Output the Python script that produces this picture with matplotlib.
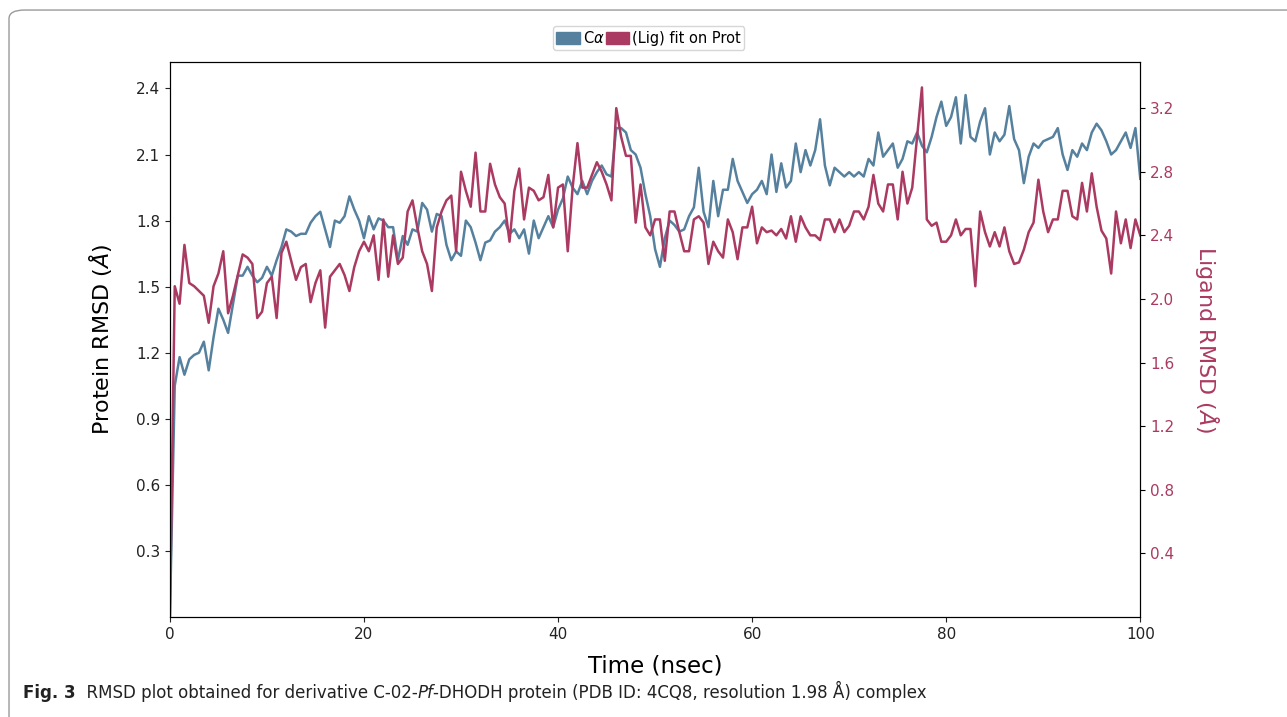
import numpy as np
import matplotlib
matplotlib.use("Agg")
import matplotlib.pyplot as plt
from matplotlib.patches import FancyBboxPatch, Patch

# time axis (ns), sampled every 0.5 ns
time = np.arange(0, 100.5, 0.5)

# protein C-alpha RMSD (left axis, Angstrom)
prot_rmsd = [
    0.00, 1.05, 1.18, 1.10, 1.17, 1.19, 1.20, 1.25, 1.12, 1.27,
    1.40, 1.35, 1.29, 1.42, 1.55, 1.55, 1.59, 1.55, 1.52, 1.54,
    1.59, 1.55, 1.62, 1.68, 1.76, 1.75, 1.73, 1.74, 1.74, 1.79,
    1.82, 1.84, 1.76, 1.68, 1.80, 1.79, 1.82, 1.91, 1.85, 1.80,
    1.72, 1.82, 1.76, 1.81, 1.80, 1.77, 1.77, 1.62, 1.73, 1.69,
    1.76, 1.75, 1.88, 1.85, 1.75, 1.83, 1.82, 1.69, 1.62, 1.66,
    1.64, 1.80, 1.77, 1.70, 1.62, 1.70, 1.71, 1.75, 1.77, 1.80,
    1.74, 1.76, 1.72, 1.76, 1.65, 1.80, 1.72, 1.77, 1.82, 1.77,
    1.85, 1.90, 2.00, 1.95, 1.92, 1.98, 1.92, 1.98, 2.02, 2.05,
    2.01, 2.00, 2.22, 2.22, 2.20, 2.12, 2.10, 2.04, 1.92, 1.82,
    1.67, 1.59, 1.72, 1.80, 1.78, 1.75, 1.76, 1.82, 1.86, 2.04,
    1.84, 1.77, 1.98, 1.82, 1.94, 1.94, 2.08, 1.98, 1.93, 1.88,
    1.92, 1.94, 1.98, 1.92, 2.10, 1.93, 2.06, 1.95, 1.98, 2.15,
    2.02, 2.12, 2.05, 2.12, 2.26, 2.05, 1.96, 2.04, 2.02, 2.00,
    2.02, 2.00, 2.02, 2.00, 2.08, 2.05, 2.20, 2.09, 2.12, 2.15,
    2.04, 2.08, 2.16, 2.15, 2.20, 2.14, 2.11, 2.18, 2.27, 2.34,
    2.23, 2.27, 2.36, 2.15, 2.37, 2.18, 2.16, 2.25, 2.31, 2.10,
    2.20, 2.16, 2.19, 2.32, 2.17, 2.12, 1.97, 2.09, 2.15, 2.13,
    2.16, 2.17, 2.18, 2.22, 2.10, 2.03, 2.12, 2.09, 2.15, 2.12,
    2.20, 2.24, 2.21, 2.16, 2.10, 2.12, 2.16, 2.20, 2.13, 2.22,
    1.99,
]

# ligand RMSD fit on protein (right axis, Angstrom)
lig_rmsd = [
    0.00, 2.08, 1.97, 2.34, 2.10, 2.08, 2.05, 2.02, 1.85, 2.08,
    2.16, 2.30, 1.91, 2.02, 2.15, 2.28, 2.26, 2.22, 1.88, 1.92,
    2.10, 2.14, 1.88, 2.29, 2.36, 2.24, 2.12, 2.20, 2.22, 1.98,
    2.10, 2.18, 1.82, 2.14, 2.18, 2.22, 2.15, 2.05, 2.20, 2.30,
    2.36, 2.30, 2.40, 2.12, 2.50, 2.14, 2.40, 2.22, 2.26, 2.55,
    2.62, 2.45, 2.30, 2.22, 2.05, 2.45, 2.55, 2.62, 2.65, 2.30,
    2.80, 2.68, 2.58, 2.92, 2.55, 2.55, 2.85, 2.72, 2.64, 2.60,
    2.36, 2.68, 2.82, 2.50, 2.70, 2.68, 2.62, 2.64, 2.78, 2.45,
    2.70, 2.72, 2.30, 2.70, 2.98, 2.70, 2.70, 2.78, 2.86, 2.80,
    2.72, 2.62, 3.20, 3.02, 2.90, 2.90, 2.48, 2.72, 2.45, 2.40,
    2.50, 2.50, 2.24, 2.55, 2.55, 2.42, 2.30, 2.30, 2.50, 2.52,
    2.48, 2.22, 2.36, 2.30, 2.26, 2.50, 2.42, 2.25, 2.45, 2.45,
    2.58, 2.35, 2.45, 2.42, 2.43, 2.40, 2.44, 2.38, 2.52, 2.36,
    2.52, 2.45, 2.40, 2.40, 2.37, 2.50, 2.50, 2.42, 2.50, 2.42,
    2.46, 2.55, 2.55, 2.50, 2.58, 2.78, 2.60, 2.55, 2.72, 2.72,
    2.50, 2.80, 2.60, 2.70, 3.02, 3.33, 2.50, 2.46, 2.48, 2.36,
    2.36, 2.40, 2.50, 2.40, 2.44, 2.44, 2.08, 2.55, 2.42, 2.33,
    2.42, 2.33, 2.45, 2.30, 2.22, 2.23, 2.31, 2.42, 2.48, 2.75,
    2.55, 2.42, 2.50, 2.50, 2.68, 2.68, 2.52, 2.50, 2.73, 2.55,
    2.79, 2.58, 2.43, 2.38, 2.16, 2.55, 2.35, 2.50, 2.32, 2.50,
    2.40,
]

left_ticks = [0.3, 0.6, 0.9, 1.2, 1.5, 1.8, 2.1, 2.4]
right_ticks = [0.4, 0.8, 1.2, 1.6, 2.0, 2.4, 2.8, 3.2]
x_ticks = [0, 20, 40, 60, 80, 100]

blue = "#56819e"
red = "#ab3a62"

fig = plt.figure(figsize=(12.87, 7.17), dpi=100)

# rounded frame of the figure panel
frame = FancyBboxPatch((0.007, -0.1), 1.2, 1.086,
                       boxstyle="round,pad=0,rounding_size=0.012",
                       transform=fig.transFigure, fill=False,
                       edgecolor="#9a9a9a", lw=1.0)
fig.patches.append(frame)

ax = fig.add_axes([0.132, 0.1395, 0.754, 0.774])
ax.plot(time, prot_rmsd, color=blue, lw=1.8)
ax.set_xlim(0, 100)
ax.set_ylim(0, 2.52)
ax.set_xticks(x_ticks)
ax.set_yticks(left_ticks)
ax.tick_params(labelsize=11, colors="#222222")
ax.set_xlabel("Time (nsec)", fontsize=16.5, labelpad=9)
ax.set_ylabel(r"Protein RMSD ($\AA$)", fontsize=16, labelpad=16)

ax2 = ax.twinx()
ax2.plot(time, lig_rmsd, color=red, lw=1.8)
ax2.set_ylim(0, 3.49)
ax2.set_yticks(right_ticks)
ax2.tick_params(labelsize=11, labelcolor=red)
ax2.set_ylabel(r"Ligand RMSD ($\AA$)", fontsize=16, color=red,
               rotation=270, labelpad=34)

handles = [Patch(color=blue, label=r"C$\alpha$"),
           Patch(color=red, label="(Lig) fit on Prot")]
fig.legend(handles=handles, loc="center", bbox_to_anchor=(0.504, 0.947),
           ncol=2, fontsize=10.5, handlelength=1.6, handleheight=0.8,
           handletextpad=0.2, columnspacing=0.1, borderpad=0.25,
           frameon=True, edgecolor="#cccccc", fancybox=True)

# caption
cap_font = ["Liberation Sans Narrow", "DejaVu Sans"]
t1 = fig.text(0.018, 0.026, "Fig. 3", fontsize=12, fontweight="bold",
              family=cap_font, color="#222222")
t2 = ax.annotate("  RMSD plot obtained for derivative C-02-", xy=(1, 0),
                 xycoords=t1, va="bottom", fontsize=12, family=cap_font,
                 color="#222222", annotation_clip=False)
t3 = ax.annotate("Pf", xy=(1, 0), xycoords=t2, va="bottom", fontsize=12,
                 family=cap_font, style="italic", color="#222222",
                 annotation_clip=False)
ax.annotate("-DHODH protein (PDB ID: 4CQ8, resolution 1.98 Å) complex",
            xy=(1, 0), xycoords=t3, va="bottom", fontsize=12,
            family=cap_font, color="#222222", annotation_clip=False)

plt.savefig("out.png", dpi=100)
